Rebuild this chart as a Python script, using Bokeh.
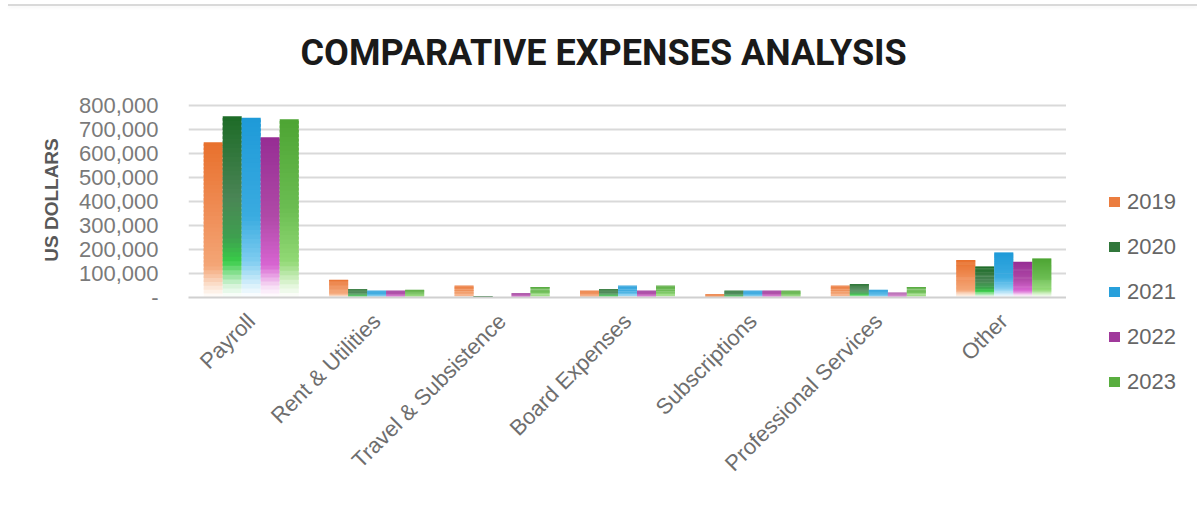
from math import pi

from bokeh.embed import file_html
from bokeh.layouts import row
from bokeh.models import (ColumnDataSource, Div, FactorRange, FixedTicker, InlineStyleSheet,
                          Range1d, Title)
from bokeh.plotting import figure
from bokeh.resources import INLINE
from bokeh.transform import dodge

# ---------------------------------------------------------------- data
categories = ["Payroll", "Rent & Utilities", "Travel & Subsistence", "Board Expenses",
              "Subscriptions", "Professional Services", "Other"]
years = ["2019", "2020", "2021", "2022", "2023"]

expenses_2019 = [647000, 74000, 49000, 28000, 14000, 49000, 156000]
expenses_2020 = [755000, 35000, 6000, 35000, 28000, 56000, 129000]
expenses_2021 = [749000, 28000, 0, 49000, 28000, 32000, 188000]
expenses_2022 = [668000, 28000, 18000, 28000, 28000, 21000, 149000]
expenses_2023 = [743000, 32000, 44000, 49000, 28000, 44000, 163000]

y_ticks = [0, 100000, 200000, 300000, 400000, 500000, 600000, 700000, 800000]
y_tick_labels = ["-", "100,000", "200,000", "300,000", "400,000",
                 "500,000", "600,000", "700,000", "800,000"]

series = [expenses_2019, expenses_2020, expenses_2021, expenses_2022, expenses_2023]

# vertical colour ramps of each year's bars: (fraction of bar height from the base, colour)
ramps = [
    [(0.0, "#FFFFFF"), (0.07, "#FCE4D4"), (0.2, "#F4A677"), (0.55, "#EF8D56"), (1.0, "#E8702C")],
    [(0.0, "#FFFFFF"), (0.07, "#D3F3D7"), (0.2, "#38CC48"), (0.33, "#3EA04F"), (0.55, "#4A8555"), (1.0, "#1D6B27")],
    [(0.0, "#FFFFFF"), (0.07, "#D8F0FB"), (0.2, "#7FCDF0"), (0.45, "#3AABE0"), (1.0, "#1E9AD8")],
    [(0.0, "#FFFFFF"), (0.07, "#F7DDF5"), (0.2, "#D865D2"), (0.5, "#B04AA8"), (1.0, "#962D93")],
    [(0.0, "#FFFFFF"), (0.07, "#E2F6DA"), (0.2, "#92D975"), (0.5, "#6BBD52"), (1.0, "#4DA433")],
]

BAR_W = 0.1515
N_SEG = 40


def hex_to_rgb(h):
    h = h.lstrip("#")
    return tuple(int(h[i:i + 2], 16) for i in (0, 2, 4))


def ramp_color(ramp, f):
    for (f0, c0), (f1, c1) in zip(ramp[:-1], ramp[1:]):
        if f <= f1:
            t = (f - f0) / (f1 - f0)
            a, b = hex_to_rgb(c0), hex_to_rgb(c1)
            return "#%02x%02x%02x" % tuple(round(a[i] + (b[i] - a[i]) * t) for i in range(3))
    return ramp[-1][1]


# ---------------------------------------------------------------- main chart
p = figure(
    width=1066, height=505,
    x_range=FactorRange(*categories),
    y_range=Range1d(0, 812500),
    output_backend="svg", toolbar_location=None,
    min_border_left=188, min_border_right=0,
    min_border_top=102, min_border_bottom=208,
    outline_line_color=None, background_fill_color="white", border_fill_color="white",
)

# each bar is a stack of thin slices so it can fade out toward the base
for k, (year, vals) in enumerate(zip(years, series)):
    cat, bottom, top, color = [], [], [], []
    for c, v in zip(categories, vals):
        if v <= 0:
            continue
        for s in range(N_SEG):
            f0, f1 = s / N_SEG, (s + 1) / N_SEG
            cat.append(c)
            bottom.append(v * f0)
            # slices overlap the next one up, so no seams show between them
            top.append(v * min(f1 + 0.6 / N_SEG, 1.0))
            color.append(ramp_color(ramps[k], (f0 + f1) / 2))
    src = ColumnDataSource(dict(cat=cat, bottom=bottom, top=top, color=color))
    p.vbar(x=dodge("cat", (k - 2) * BAR_W, range=p.x_range), width=BAR_W,
           bottom="bottom", top="top", source=src,
           fill_color="color", line_color=None)

# grid
p.xgrid.grid_line_color = None
p.ygrid.ticker = FixedTicker(ticks=y_ticks)
p.ygrid.grid_line_color = "#d9d9d9"
p.ygrid.grid_line_width = 2

# y axis
p.yaxis.ticker = FixedTicker(ticks=y_ticks)
p.yaxis.major_label_overrides = {t: lbl for t, lbl in zip(y_ticks, y_tick_labels)}
p.yaxis.axis_line_color = None
p.yaxis.major_tick_line_color = None
p.yaxis.major_tick_out = 0
p.yaxis.minor_tick_line_color = None
p.yaxis.major_label_standoff = 30
p.yaxis.major_label_text_font = "Liberation Sans"
p.yaxis.major_label_text_font_size = "22px"
p.yaxis.major_label_text_color = "#7a7a7a"
p.yaxis.axis_label = "US DOLLARS"
p.yaxis.axis_label_text_font = "Liberation Sans"
p.yaxis.axis_label_text_font_style = "bold"
p.yaxis.axis_label_text_font_size = "19px"
p.yaxis.axis_label_text_color = "#595959"
p.yaxis.axis_label_standoff = 14

# x axis
p.xaxis.major_label_orientation = pi / 4
p.xaxis.major_label_text_font = "Liberation Sans"
p.xaxis.major_label_text_font_size = "22px"
p.xaxis.major_label_text_color = "#6e6e6e"
p.xaxis.major_label_standoff = 20
p.xaxis.major_tick_line_color = None
p.xaxis.major_tick_out = 0
p.xaxis.minor_tick_line_color = None
p.xaxis.axis_line_color = "#d0d0d0"
p.xaxis.axis_line_width = 2

# title
p.add_layout(Title(
    text="COMPARATIVE EXPENSES ANALYSIS", align="left", offset=112, standoff=57,
    text_font="Roboto", text_font_style="bold", text_font_size="36px", text_color="#1a1a1a",
), "above")

# ---------------------------------------------------------------- legend strip
swatch_colors = [ramp_color(r, 0.8) for r in ramps]
entries = []
for i, (yr, col) in enumerate(zip(years, swatch_colors)):
    top_px = 191 + i * 45
    entries.append(
        f'<div style="position:absolute;left:43px;top:{top_px}px;height:22px;'
        f'display:flex;align-items:center;white-space:nowrap;">'
        f'<span style="display:inline-block;width:11px;height:10px;background:{col};'
        f'margin-right:7px;"></span><span>{yr}</span></div>'
    )
legend_div = Div(
    width=131, height=505,
    text=('<div style="position:relative;width:131px;height:505px;margin:0;padding:0;'
          'font-family:\'Liberation Sans\';font-size:22px;line-height:22px;color:#666666;">'
          + "".join(entries) + "</div>"),
    styles={"margin": "0", "padding": "0"},
)

layout = row(p, legend_div)
# thin rule across the top of the card
layout.stylesheets.append(InlineStyleSheet(css="""
:host { position: relative; }
:host::after { content: ""; position: absolute; left: 8px; right: 0; top: 4px; height: 2px;
               background: #d9d9d9; box-shadow: 0 2px 3px rgba(0,0,0,0.04); }
"""))

open("out.html", "w").write(file_html(layout, INLINE))
